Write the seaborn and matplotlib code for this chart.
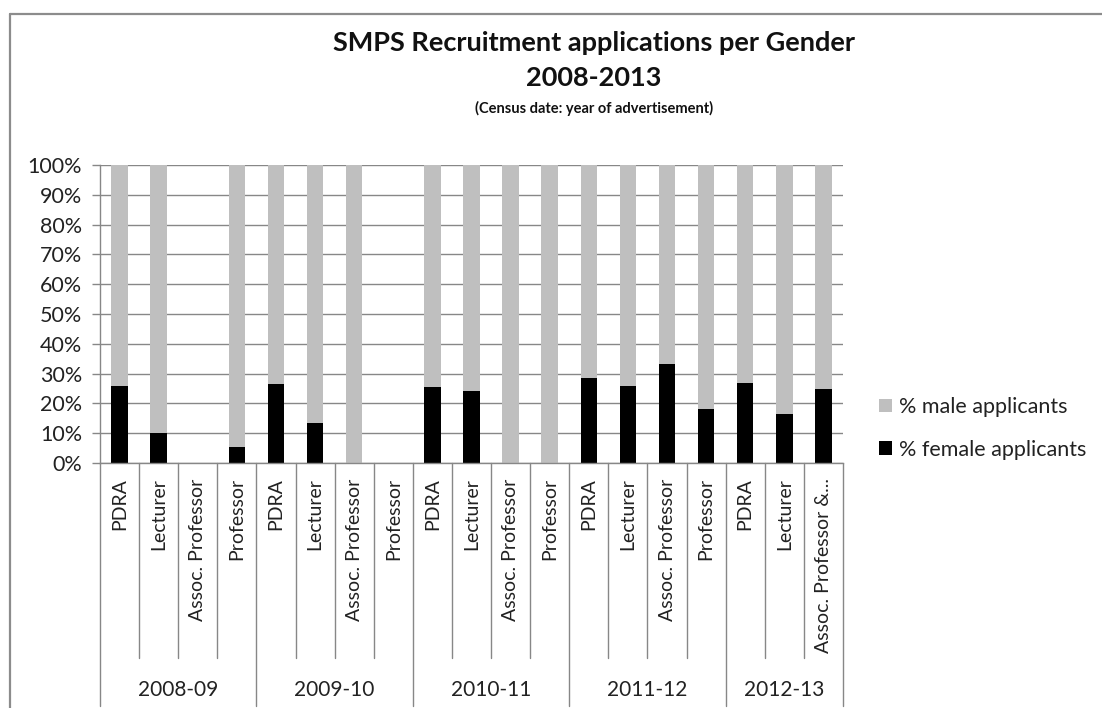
import matplotlib
matplotlib.use("Agg")
import matplotlib.pyplot as plt
from matplotlib.lines import Line2D
from matplotlib.patches import Patch
from matplotlib.transforms import blended_transform_factory
import seaborn as sns
import pandas as pd

# ---------------- data ----------------
years = ["2008-09", "2009-10", "2010-11", "2011-12", "2012-13"]
roles_2008 = ["PDRA", "Lecturer", "Assoc. Professor", "Professor"]
roles_2009 = ["PDRA", "Lecturer", "Assoc. Professor", "Professor"]
roles_2010 = ["PDRA", "Lecturer", "Assoc. Professor", "Professor"]
roles_2011 = ["PDRA", "Lecturer", "Assoc. Professor", "Professor"]
roles_2012 = ["PDRA", "Lecturer", "Assoc. Professor &..."]
female_pct = [25.9, 10.1, 0.0, 5.4,
              26.4, 13.4, 0.0, 0.0,
              25.6, 24.0, 0.0, 0.0,
              28.6, 25.9, 33.2, 18.1,
              26.7, 16.4, 24.8]
male_pct = [74.1, 89.9, 0.0, 94.6,
            73.6, 86.6, 100.0, 0.0,
            74.4, 76.0, 100.0, 100.0,
            71.4, 74.1, 66.8, 81.9,
            73.3, 83.6, 75.2]
series_labels = ["% male applicants", "% female applicants"]
y_ticks = [0, 10, 20, 30, 40, 50, 60, 70, 80, 90, 100]

roles_by_year = [roles_2008, roles_2009, roles_2010, roles_2011, roles_2012]

# ---------------- build table ----------------
rows = []
for y, roles in zip(years, roles_by_year):
    for r in roles:
        rows.append((y, r))
df = pd.DataFrame(rows, columns=["year", "role"])
df["key"] = df["year"] + "|" + df["role"]
df["female"] = female_pct
df["male"] = male_pct
df["total"] = df["female"] + df["male"]
order = list(df["key"])

# ---------------- style ----------------
sns.set_theme(style="white")
plt.rcParams["font.family"] = ["Lato", "DejaVu Sans"]
GRID = "#878787"
MALE = "#BFBFBF"
FEMALE = "#000000"
TXT = "#222222"

W, H = 1102, 708
fig = plt.figure(figsize=(W / 100, H / 100), dpi=100)
ax = fig.add_axes([100 / W, 1 - 463 / H, 743 / W, 298 / H])

sns.barplot(data=df, x="key", y="total", order=order, color=MALE,
            saturation=1, width=0.42, errorbar=None, ax=ax, linewidth=0)
sns.barplot(data=df, x="key", y="female", order=order, color=FEMALE,
            saturation=1, width=0.42, errorbar=None, ax=ax, linewidth=0)

n = len(order)
ax.set_xlim(-0.5, n - 0.5)
ax.set_ylim(0, 100)
ax.set_yticks(y_ticks)
ax.set_yticklabels([f"{v}%" for v in y_ticks], fontsize=15.5, color=TXT)
ax.set_xticks(range(n))
ax.set_xticklabels(list(df["role"]), rotation=90, fontsize=14, color=TXT,
                   ha="center", va="top")
ax.tick_params(axis="x", length=0, pad=11)
ax.tick_params(axis="y", length=6, width=1, color=GRID, pad=7, left=True,
               direction="out")
ax.set_xlabel("")
ax.set_ylabel("")
ax.yaxis.grid(True, color=GRID, linewidth=1)
ax.set_axisbelow(True)
for s in ["top", "right"]:
    ax.spines[s].set_visible(False)
for s in ["left", "bottom"]:
    ax.spines[s].set_color(GRID)
    ax.spines[s].set_linewidth(1)

# multi-level category dividers
tr = blended_transform_factory(ax.transData, ax.transAxes)
short_y = -(658 - 463) / 298
long_y = -(706 - 463) / 298
group_edges = [-0.5]
acc = -0.5
for roles in roles_by_year:
    acc += len(roles)
    group_edges.append(acc)
for i in range(n + 1):
    xpos = i - 0.5
    yb = long_y if xpos in group_edges else short_y
    ax.add_line(Line2D([xpos, xpos], [0, yb], transform=tr, color=GRID,
                       linewidth=1, clip_on=False))
label_y = -(690 - 463) / 298
for y, a, b in zip(years, group_edges[:-1], group_edges[1:]):
    ax.text((a + b) / 2, label_y, y, transform=tr, ha="center", va="center",
            fontsize=15, color=TXT)

# titles
cx = 594 / W
fig.text(cx, 1 - 43 / H, "SMPS Recruitment applications per Gender",
         ha="center", va="center", fontsize=19.5, fontweight="bold", color="#111111")
fig.text(cx, 1 - 78 / H, "2008-2013", ha="center", va="center",
         fontsize=19.5, fontweight="bold", color="#111111")
fig.text(cx, 1 - 108 / H, "(Census date: year of advertisement)",
         ha="center", va="center", fontsize=10.5, fontweight="bold", color="#111111")

# legend
handles = [Patch(facecolor=MALE, edgecolor="none"),
           Patch(facecolor=FEMALE, edgecolor="none")]
fig.legend(handles, series_labels, loc="upper left",
           bbox_to_anchor=(879 / W, 1 - 397 / H), frameon=False, fontsize=15.5,
           handlelength=0.6, handleheight=0.6, handletextpad=0.35,
           labelspacing=1.05, borderpad=0, borderaxespad=0,
           labelcolor=TXT)

# chart-area border (top and left edges visible)
fig.add_artist(Line2D([10 / W, 1], [1 - 14 / H, 1 - 14 / H], transform=fig.transFigure,
                      color="#8c8c8c", linewidth=1.6))
fig.add_artist(Line2D([10 / W, 10 / W], [0, 1 - 14 / H], transform=fig.transFigure,
                      color="#8c8c8c", linewidth=1.6))

fig.savefig("out.png", dpi=100, facecolor="white")
